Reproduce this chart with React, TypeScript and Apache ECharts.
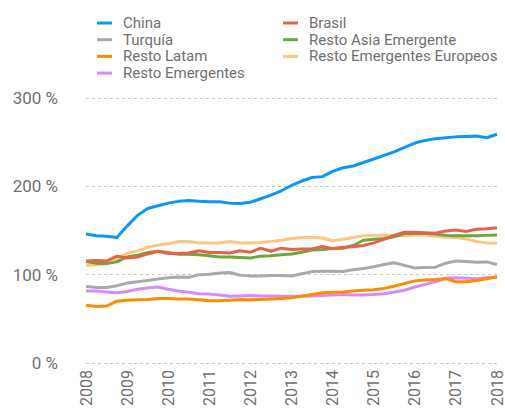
import React, { useEffect, useRef } from "react";
import * as echarts from "echarts";

const startYear = 2008;
const yearTicks = [2008, 2009, 2010, 2011, 2012, 2013, 2014, 2015, 2016, 2017, 2018];
const yTicks = [0, 100, 200, 300];

// Quarterly values, 2008 Q1 .. 2018 Q1 (41 points)
const china = [146, 144, 143.5, 142, 155, 167, 175, 178, 181, 183, 184, 183, 182.5, 182.5, 181, 180.5, 182, 186, 190, 195, 201, 206, 210, 211, 217, 221, 223, 227, 231, 235, 239, 244, 249, 252, 254, 255, 256, 256.5, 257, 255, 259];
const brasil = [115.5, 116, 115.5, 121, 119, 120, 123.5, 126.5, 124, 124, 124.5, 127, 125, 125, 124.5, 127, 125.5, 130, 126.5, 130, 128.5, 129, 129, 132, 129.5, 131, 131.5, 133, 136, 140, 144.5, 148, 148, 147.5, 147, 149.5, 150.5, 149, 151.5, 152, 153];
const turquia = [86.5, 85.5, 85.5, 87.5, 90.5, 92, 93.5, 95, 96.5, 97.5, 97, 100, 100.5, 102, 102.5, 99.5, 98.5, 98.5, 99, 99, 98.5, 101, 103.5, 104, 104, 103.5, 105.5, 107, 109, 111.5, 113.5, 110.5, 107.5, 108, 108.5, 113, 115.5, 115, 114, 114.5, 111.5];
const restoAsia = [115, 113, 112.5, 114.5, 120, 122, 125, 126.5, 125, 123, 123, 122.5, 121.5, 120, 120, 119.5, 119, 121, 121.5, 122.5, 123.5, 125.5, 128, 128.5, 129.5, 130, 133, 139, 140, 141, 143, 146.5, 146.5, 146.5, 146, 144.5, 144, 144, 144, 144.5, 145];
const restoLatam = [65.5, 64, 64.5, 70, 71, 71.5, 72, 73, 73, 72.5, 72.5, 71.5, 70.5, 70.5, 71, 72, 71.5, 72, 72.5, 73, 74, 75.5, 77.5, 79.5, 80, 80.5, 81.5, 82.5, 83, 84.5, 87, 90, 93, 94, 94.5, 95.5, 92, 92, 93.5, 95.5, 97.5];
const restoEuropeos = [110.5, 111, 113, 118, 124, 127, 131, 133.5, 135, 137.5, 137.5, 136, 136, 136, 137.5, 136, 136, 136.5, 137.5, 139, 141, 142, 142.5, 141.5, 138.5, 140, 142, 144, 144.5, 145, 144.5, 144, 145, 145, 143.5, 142.5, 142, 140.5, 137.5, 136, 135.5];
const restoEmergentes = [81.5, 81.5, 80.5, 79.5, 81, 83.5, 85, 86, 83.5, 81.5, 80, 78.5, 78, 77, 75.5, 76, 76.5, 76, 76, 75.5, 75.5, 75.5, 76, 76.5, 77, 77.5, 77, 77, 77.5, 78.5, 80.5, 82.5, 86, 89, 92, 96, 96.5, 96, 95.5, 96.5, 97.5];

const seriesDefs = [
  { name: "Resto Emergentes", data: restoEmergentes, color: "#d98af8" },
  { name: "Turquía", data: turquia, color: "#a9a9a9" },
  { name: "Resto Emergentes Europeos", data: restoEuropeos, color: "#fdc681" },
  { name: "Resto Asia Emergente", data: restoAsia, color: "#6aa83a" },
  { name: "Brasil", data: brasil, color: "#e9604b" },
  { name: "Resto Latam", data: restoLatam, color: "#ff8c00" },
  { name: "China", data: china, color: "#0a98f7" },
];

const legendLeft = ["China", "Turquía", "Resto Latam", "Resto Emergentes"];
const legendRight = ["Brasil", "Resto Asia Emergente", "Resto Emergentes Europeos"];

const FONT = "Roboto, 'DejaVu Sans', sans-serif";
const TXT = "#707070";

export default function App() {
  const ref = useRef<HTMLDivElement>(null);
  useEffect(() => {
    if (!ref.current) return;
    const chart = echarts.init(ref.current, undefined, { renderer: "svg" });
    const legendCommon = {
      orient: "vertical" as const,
      top: 10,
      icon: "rect",
      itemWidth: 15,
      itemHeight: 3,
      itemGap: 0.7,
      selectedMode: false,
      textStyle: {
        fontFamily: FONT,
        fontSize: 15,
        color: TXT,
        lineHeight: 16,
        padding: [0, 0, 0, 6],
      },
    };
    chart.setOption({
      animation: false,
      backgroundColor: "#ffffff",
      textStyle: { fontFamily: FONT },
      legend: [
        { ...legendCommon, left: 92, data: legendLeft },
        { ...legendCommon, left: 278, data: legendRight },
      ],
      grid: { left: 86, right: 8, top: 98, bottom: 44, containLabel: false },
      xAxis: {
        type: "value",
        min: yearTicks[0],
        max: yearTicks[yearTicks.length - 1],
        interval: 1,
        axisLine: { show: false },
        axisTick: { show: false },
        splitLine: { show: false },
        axisLabel: {
          rotate: 90,
          margin: 7,
          fontSize: 16,
          color: TXT,
          fontFamily: FONT,
          formatter: (v: number) => String(v),
        },
      },
      yAxis: {
        type: "value",
        min: yTicks[0],
        max: yTicks[yTicks.length - 1],
        interval: 100,
        axisLine: { show: false },
        axisTick: { show: false },
        splitLine: { lineStyle: { color: "#c8c8c8", type: [3, 3], width: 1 } },
        axisLabel: {
          margin: 28,
          fontSize: 17,
          color: TXT,
          fontFamily: FONT,
          formatter: "{value} %",
        },
      },
      series: seriesDefs.map((s) => ({
        name: s.name,
        type: "line",
        showSymbol: false,
        symbol: "none",
        color: s.color,
        lineStyle: { color: s.color, width: 3, join: "round" },
        data: s.data.map((v, i) => [startYear + i / 4, v]),
      })),
    });
    return () => chart.dispose();
  }, []);
  return <div ref={ref} style={{ width: 505, height: 409, position: "absolute", left: 0, top: 0 }} />;
}
